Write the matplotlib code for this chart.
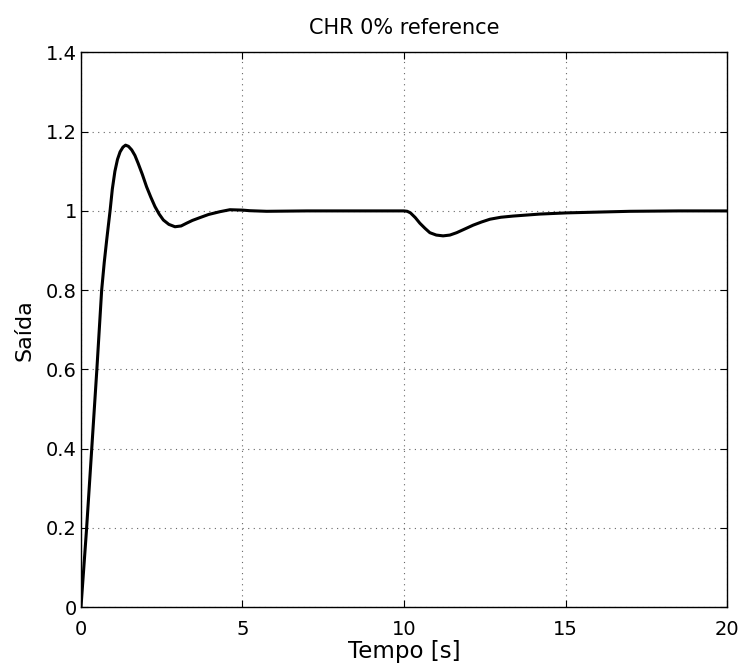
import matplotlib
matplotlib.use("Agg")
import matplotlib.pyplot as plt

# Time samples [s] and output
t = [0.0, 0.17, 0.33, 0.49, 0.64, 0.72, 0.795, 0.85, 0.90, 0.97, 1.05, 1.13,
     1.21, 1.30, 1.38, 1.47, 1.57, 1.67, 1.77, 1.90, 2.03, 2.16, 2.29, 2.42,
     2.55, 2.72, 2.91, 3.10, 3.27, 3.45, 3.68, 3.95, 4.30, 4.61, 5.0, 5.23,
     5.75, 7.0, 8.5,
     10.0, 10.1, 10.2, 10.35, 10.49, 10.65, 10.8, 11.0, 11.21, 11.42, 11.63,
     11.9, 12.14, 12.4, 12.66, 13.0, 13.38, 14.2, 15.03, 16.0, 17.0, 18.5,
     20.0]
y = [0.0, 0.194, 0.396, 0.598, 0.800, 0.870, 0.926, 0.965, 1.000, 1.055,
     1.100, 1.130, 1.149, 1.161, 1.166, 1.163, 1.154, 1.140, 1.120, 1.092,
     1.061, 1.035, 1.011, 0.992, 0.977, 0.966, 0.960, 0.962, 0.969, 0.976,
     0.983, 0.991, 0.998, 1.003, 1.002, 1.0005, 0.999, 1.000, 1.000,
     1.000, 0.999, 0.995, 0.983, 0.969, 0.956, 0.945, 0.939, 0.937, 0.939,
     0.945, 0.955, 0.964, 0.972, 0.979, 0.984, 0.987, 0.992, 0.995, 0.997,
     0.999, 1.000, 1.000]

x_ticks = [0, 5, 10, 15, 20]
y_ticks = [0, 0.2, 0.4, 0.6, 0.8, 1.0, 1.2, 1.4]
y_tick_labels = ["0", "0.2", "0.4", "0.6", "0.8", "1", "1.2", "1.4"]

plt.rcParams['font.family'] = ['DejaVu Sans']

fig = plt.figure(figsize=(7.43, 6.64), dpi=100)
ax = fig.add_axes([0.109, 0.0858, 0.8695, 0.8352])

ax.plot(t, y, color='black', linewidth=2.2, solid_joinstyle='round',
        solid_capstyle='round')

ax.set_xlim(0, 20)
ax.set_ylim(0, 1.4)
ax.set_xticks(x_ticks)
ax.set_xticklabels([str(v) for v in x_ticks])
ax.set_yticks(y_ticks)
ax.set_yticklabels(y_tick_labels)

ax.grid(True, color='#666666', linestyle=(0, (1, 4)), linewidth=0.8)
ax.tick_params(direction='in', length=5, width=0.8, top=True, right=True,
               labelsize=14, colors='black')
ax.tick_params(axis='x', pad=9.5)
ax.tick_params(axis='y', pad=3)
for s in ax.spines.values():
    s.set_linewidth(1.0)
    s.set_color('black')

ax.set_title("CHR 0% reference", fontsize=15, pad=13.5)
ax.set_xlabel("Tempo [s]", fontsize=16.5, labelpad=0.5)
ax.set_ylabel("Saída", fontsize=16, labelpad=8.5)

fig.savefig("out.png", dpi=100)
